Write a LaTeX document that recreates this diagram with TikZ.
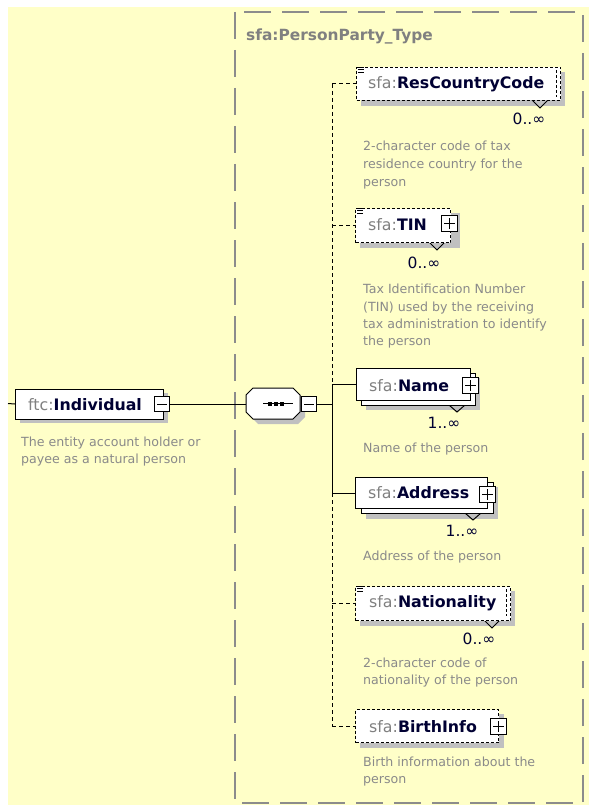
\documentclass[tikz,border=0pt]{standalone}
\usepackage{fontspec}
\setmainfont{DejaVu Sans}
\definecolor{bg}{HTML}{FFFFC8}
\definecolor{shadowc}{HTML}{C0C0C0}
\definecolor{descc}{HTML}{8A8A8A}
\definecolor{prefc}{HTML}{808080}
\definecolor{namec}{HTML}{000033}
\definecolor{borderc}{HTML}{8C8C8C}
\tikzset{
  ebox/.style={draw=black, fill=white, line width=1pt, inner sep=0pt, anchor=north west},
  optbox/.style={ebox, dash pattern=on 3pt off 2pt},
  shad/.style={fill=shadowc, draw=none},
  pm/.style={draw=black, fill=white, line width=1pt, minimum size=16pt, inner sep=0pt, anchor=north west},
  desc/.style={anchor=base west, inner sep=0pt, text=descc, font=\fontsize{12.6}{14}\selectfont},
  ename/.style={anchor=base west, inner sep=0pt, font=\fontsize{15.8}{18}\selectfont},
  mult/.style={anchor=base, inner sep=0pt, text=namec, font=\fontsize{15.5}{18}\selectfont},
  conn/.style={line width=1pt, draw=black},
  dconn/.style={conn, dash pattern=on 4pt off 3pt},
  chev/.style={draw=black, fill=shadowc, line width=1pt},
}
\newcommand{\el}[2]{{\color{prefc}#1:}{\bfseries\color{namec}#2}}
\newcommand{\plussign}[1]{\draw[line width=1pt] ([xshift=3pt]#1.west) -- ([xshift=-3pt]#1.east); \draw[line width=1pt] ([yshift=-3pt]#1.north) -- ([yshift=3pt]#1.south);}
\newcommand{\minussign}[1]{\draw[line width=1pt] ([xshift=3pt]#1.west) -- ([xshift=-3pt]#1.east);}
\newcommand{\eqicon}[2]{\draw[line width=0.8pt] (#1+1,#2+1) -- (#1+8,#2+1) (#1+2,#2+3.5) -- (#1+8,#2+3.5) (#1+2,#2+6) -- (#1+8,#2+6);}
\begin{document}
\begin{tikzpicture}[x=1pt,y=-1pt]
\useasboundingbox (0,0) rectangle (589,805);
\fill[bg] (8,7) rectangle (589,805);
% outer complex type box
\draw[borderc, line width=1.5pt, dash pattern=on 27pt off 11pt] (235,12) rectangle (583,803);
\node[anchor=base west, inner sep=0pt, text=prefc, font=\fontsize{15.4}{18}\selectfont\bfseries] (title) at (246,41) {sfa:PersonParty\_Type};

% trunk reference
\coordinate (trunk) at (332,0);
\coordinate (lstart) at (8,403.5);

% ---------- Individual ----------
\fill[shad] (20,393) rectangle (168,423);
\node[ebox, minimum width=148pt, minimum height=30pt] (ind) at (15,388.5) {};
\node[ename] (indt) at (28,410) {\el{ftc}{Individual}};
\node[pm, minimum size=15pt] (indm) at (154,396) {};
\minussign{indm}
\node[desc] (d0a) at (21,446) {The entity account holder or};
\node[desc] (d0b) at (21,463) {payee as a natural person};

% ---------- sequence compositor ----------
\node[minimum width=54pt, minimum height=31pt, inner sep=0pt] (seq) at (273,403.5) {};
\fill[shad] (258,393) -- (298,393) -- (305,400) -- (305,417) -- (298,424) -- (258,424) -- (251,417) -- (251,400) -- cycle;
\filldraw[fill=white, draw=black, line width=1pt] (253,388) -- (293,388) -- (300,395) -- (300,412) -- (293,419) -- (253,419) -- (246,412) -- (246,395) -- cycle;
\draw[line width=1pt] (263,403.5) -- (293,403.5);
\foreach \i in {270,276,282} {\fill (\i-2,401.5) rectangle (\i+2,405.5);}
\node[pm, minimum size=15pt] (seqm) at (301,396) {};
\minussign{seqm}

\draw[conn] (lstart) -- (ind.west);
\draw[conn] (indm.east) -- (indm.east -| seq.west);
\draw[conn] (seqm.east) -- (seqm.east -| trunk);

% ---------- ResCountryCode ----------
\fill[shad] (361,72) rectangle (565,106);
\filldraw[chev] (532,100) -- (540,108) -- (548,100);
\node[optbox, minimum width=204pt, minimum height=33pt] (rcc) at (356,67) {};
\draw[dash pattern=on 3pt off 2pt, line width=1pt] (556,70) -- (556,97);
\eqicon{356}{66}
\node[ename] (rcct) at (368,89) {\el{sfa}{ResCountryCode}};
\node[mult] (rccm) at (529,125) {0..∞};
\node[desc] (d1a) at (363,151) {2-character code of tax};
\node[desc] (d1b) at (363,168) {residence country for the};
\node[desc] (d1c) at (363,186) {person};

% ---------- TIN ----------
\fill[shad] (360,213) rectangle (460,248);
\filldraw[chev] (429,242) -- (437,250) -- (445,242);
\node[optbox, minimum width=95pt, minimum height=34pt] (tin) at (355,208) {};
\eqicon{355}{207}
\node[ename] (tint) at (368,230) {\el{sfa}{TIN}};
\node[pm] (tinp) at (441,215) {};
\plussign{tinp}
\node[mult] (tinm) at (424,268) {0..∞};
\node[desc] (d2a) at (363,293) {Tax Identification Number};
\node[desc] (d2b) at (363,311) {(TIN) used by the receiving};
\node[desc] (d2c) at (363,328) {tax administration to identify};
\node[desc] (d2d) at (363,345) {the person};

% ---------- Name ----------
\fill[shad] (366,378) rectangle (480,410);
\filldraw[chev] (449,405) -- (457,412) -- (465,405);
\node[ebox, minimum width=114pt, minimum height=32pt] (nameb) at (361,373) {};
\node[ebox, minimum width=114pt, minimum height=32pt] (name) at (356,368) {};
\node[ename] (namet) at (369,391) {\el{sfa}{Name}};
\node[pm] (namep) at (462,377) {};
\plussign{namep}
\node[mult] (namem) at (444,428) {1..∞};
\node[desc] (d3a) at (363,452) {Name of the person};

% ---------- Address ----------
\fill[shad] (366,487) rectangle (498,519);
\filldraw[chev] (465,513) -- (473,520) -- (481,513);
\node[ebox, minimum width=132pt, minimum height=31pt] (addrb) at (361,482) {};
\node[ebox, minimum width=132pt, minimum height=31pt] (addr) at (355,477) {};
\node[ename] (addrt) at (368,498) {\el{sfa}{Address}};
\node[pm] (addrp) at (479,486) {};
\plussign{addrp}
\node[mult] (addrm) at (462,536) {1..∞};
\node[desc] (d4a) at (363,560) {Address of the person};

% ---------- Nationality ----------
\fill[shad] (360,591) rectangle (515,626);
\filldraw[chev] (484,620) -- (492,628) -- (500,620);
\node[optbox, minimum width=155pt, minimum height=34pt] (nat) at (355,586) {};
\draw[dash pattern=on 3pt off 2pt, line width=1pt] (506,589) -- (506,616);
\eqicon{355}{585}
\node[ename] (natt) at (369,607) {\el{sfa}{Nationality}};
\node[mult] (natm) at (479,644) {0..∞};
\node[desc] (d5a) at (363,667) {2-character code of};
\node[desc] (d5b) at (363,684) {nationality of the person};

% ---------- BirthInfo ----------
\fill[shad] (360,714) rectangle (504,748);
\node[optbox, minimum width=143pt, minimum height=33pt] (bi) at (355,709) {};
\node[ename] (bit) at (369,732) {\el{sfa}{BirthInfo}};
\node[pm] (bip) at (490,718) {};
\plussign{bip}
\node[desc] (d6a) at (363,766) {Birth information about the};
\node[desc] (d6b) at (363,783) {person};

% ---------- connectors ----------
\draw[dconn] (rcc.west -| trunk) -- (name.west -| trunk);
\draw[conn] (name.west -| trunk) -- (addr.west -| trunk);
\draw[dconn] (addr.west -| trunk) -- (bi.west -| trunk);
\draw[dconn] (rcc.west -| trunk) -- (rcc.west);
\draw[dconn] (tin.west -| trunk) -- (tin.west);
\draw[conn] (name.west -| trunk) -- (name.west);
\draw[conn] (addr.west -| trunk) -- (addr.west);
\draw[dconn] (nat.west -| trunk) -- (nat.west);
\draw[dconn] (bi.west -| trunk) -- (bi.west);
\end{tikzpicture}
\end{document}
